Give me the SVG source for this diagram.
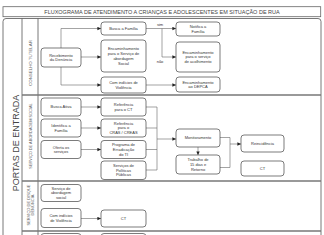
<svg xmlns="http://www.w3.org/2000/svg" width="324" height="235" viewBox="0 0 324 235">
<defs>
<marker id="ah" markerWidth="4" markerHeight="4" refX="3.6" refY="2" orient="auto" markerUnits="userSpaceOnUse">
<path d="M0,0.3 L3.6,2 L0,3.7 Z" fill="#222"/>
</marker>
<style>
.box{fill:#fff;stroke:#444;stroke-width:0.7}
.t{font-family:"Liberation Sans",Arial,sans-serif;font-size:4px;fill:#333;text-anchor:middle}
.lbl{font-family:"Liberation Sans",Arial,sans-serif;fill:#444;text-anchor:middle}
.sec{font-family:"Liberation Sans",Arial,sans-serif;fill:#666;text-anchor:middle}
.c{fill:none;stroke:#666;stroke-width:0.6}
.a{marker-end:url(#ah)}
.div{stroke:#777;stroke-width:1.3;fill:none}
.frame{fill:none;stroke:#555;stroke-width:0.8}
</style>
</defs>
<rect width="324" height="235" fill="#fff"/>
<g id="title">
<rect x="3" y="6.7" width="317.7" height="10" fill="#fff" stroke="#666" stroke-width="0.8"/>
<text class="lbl" x="162" y="13.6" font-size="5.5" fill="#333">FLUXOGRAMA DE ATENDIMENTO A CRIANÇAS E ADOLESCENTES EM SITUAÇÃO DE RUA</text>
</g>
<g id="frame">
<rect class="frame" x="3" y="18.5" width="318" height="240" rx="3"/>
<line class="frame" x1="22" y1="18.5" x2="22" y2="235"/>
<line class="frame" x1="38" y1="18.5" x2="38" y2="235"/>
<line class="div" x1="22" y1="95" x2="321" y2="95"/>
<line class="div" x1="22" y1="181" x2="321" y2="181"/>
<line class="div" x1="22" y1="231" x2="321" y2="231"/>
<text class="lbl" font-size="9" transform="translate(18.5,143) rotate(-90)">PORTAS DE ENTRADA</text>
<text class="sec" font-size="4.4" transform="translate(31.6,63) rotate(-90)">CONSELHO TUTELAR</text>
<text class="sec" font-size="3.9" transform="translate(31.6,136) rotate(-90)">SERVIÇO DE ABORDAGEM SOCIAL</text>
<text class="sec" font-size="4" transform="translate(29.5,205) rotate(-90)">SERVIÇO DE DISQUE</text>
<text class="sec" font-size="4" transform="translate(34.3,205) rotate(-90)">DENÚNCIA</text>
</g>
<g id="connectors">
<path class="c a" d="M61,48 V28.5 H101"/>
<path class="c a" d="M81,57 H101"/>
<path class="c a" d="M61,67 V85 H101"/>
<path class="c a" d="M146,28.5 H176"/>
<path class="c a" d="M162,28.5 V57 H176"/>
<path class="c a" d="M146,85 H176"/>
<path class="c a" d="M81,107 H101"/>
<path class="c a" d="M81,128 H101"/>
<path class="c a" d="M81,149.5 H101"/>
<path class="c" d="M146,107 H157 M146,128 H157 M146,149.5 H157 M146,170 H157 M157,107 V170"/>
<path class="c a" d="M157,139 H176"/>
<path class="c a" d="M198,147 V155"/>
<path class="c" d="M220,137.5 H230 V167.5 H220"/>
<path class="c a" d="M230,144 H241"/>
<path class="c a" d="M81,218.5 H101"/>
<text class="t" x="160" y="25.5">sim</text>
<text class="t" x="160" y="63">não</text>
</g>
<g id="n-recebimento"><rect class="box" x="41" y="48" width="40" height="19" rx="3"/><text class="t" x="61" y="56.5">Recebimento</text><text class="t" x="61" y="61.3">da Denúncia</text></g>
<g id="n-busca-familia"><rect class="box" x="101" y="22" width="45" height="13" rx="3"/><text class="t" x="123.5" y="29.9">Busca a Família</text></g>
<g id="n-enc-abordagem"><rect class="box" x="101" y="40" width="45" height="32" rx="3"/><text class="t" x="123.5" y="50.2">Encaminhamento</text><text class="t" x="123.5" y="55">para o Serviço de</text><text class="t" x="123.5" y="59.8">abordagem</text><text class="t" x="123.5" y="64.6">Social</text></g>
<g id="n-violencia1"><rect class="box" x="101" y="77" width="45" height="16" rx="3"/><text class="t" x="123.5" y="84">Com indícios de</text><text class="t" x="123.5" y="88.8">Violência</text></g>
<g id="n-notifica"><rect class="box" x="176" y="22" width="44" height="14" rx="3"/><text class="t" x="198" y="28">Notifica a</text><text class="t" x="198" y="32.8">Família</text></g>
<g id="n-acolhimento"><rect class="box" x="176" y="42" width="44" height="30" rx="3"/><text class="t" x="198" y="53.6">Encaminhamento</text><text class="t" x="198" y="58.4">para o serviço</text><text class="t" x="198" y="63.2">de acolhimento</text></g>
<g id="n-depca"><rect class="box" x="176" y="77" width="44" height="15" rx="3"/><text class="t" x="198" y="83.5">Encaminhamento</text><text class="t" x="198" y="88.3">ao DEPCA</text></g>
<g id="n-busca-ativa"><rect class="box" x="41" y="98" width="40" height="18" rx="3"/><text class="t" x="61" y="108.4">Busca Ativa</text></g>
<g id="n-identifica"><rect class="box" x="41" y="119" width="40" height="18" rx="3"/><text class="t" x="61" y="127">Identifica a</text><text class="t" x="61" y="131.8">Família</text></g>
<g id="n-oferta"><rect class="box" x="41" y="140.5" width="40" height="18" rx="3"/><text class="t" x="61" y="148.5">Oferta os</text><text class="t" x="61" y="153.3">serviços</text></g>
<g id="n-ref-ct"><rect class="box" x="101" y="98" width="45" height="18" rx="3"/><text class="t" x="123.5" y="106">Referência</text><text class="t" x="123.5" y="110.8">para o CT</text></g>
<g id="n-ref-cras"><rect class="box" x="101" y="119" width="45" height="18" rx="3"/><text class="t" x="123.5" y="124.6">Referência</text><text class="t" x="123.5" y="129.4">para o</text><text class="t" x="123.5" y="134.2">CRAS / CREAS</text></g>
<g id="n-peti"><rect class="box" x="101" y="140.5" width="45" height="18" rx="3"/><text class="t" x="123.5" y="146.1">Programa de</text><text class="t" x="123.5" y="150.9">Erradicação</text><text class="t" x="123.5" y="155.7">do TI</text></g>
<g id="n-politicas"><rect class="box" x="101" y="161" width="45" height="18.5" rx="3"/><text class="t" x="123.5" y="166.8">Serviços de</text><text class="t" x="123.5" y="171.6">Políticas</text><text class="t" x="123.5" y="176.4">Públicas</text></g>
<g id="n-monitoramento"><rect class="box" x="176" y="129" width="44" height="18" rx="3"/><text class="t" x="198" y="139.4">Monitoramento</text></g>
<g id="n-trabalho"><rect class="box" x="176" y="155" width="44" height="19" rx="3"/><text class="t" x="198" y="161.1">Trabalho de</text><text class="t" x="198" y="165.9">15 dias e</text><text class="t" x="198" y="170.7">Retorno</text></g>
<g id="n-reincidencia"><rect class="box" x="241" y="135" width="43" height="17" rx="3"/><text class="t" x="262.5" y="144.9">Reincidência</text></g>
<g id="n-ct1"><rect class="box" x="241" y="161" width="43" height="15" rx="3"/><text class="t" x="262.5" y="169.9">CT</text></g>
<g id="n-servico-abordagem"><rect class="box" x="41" y="184.5" width="40" height="17" rx="3"/><text class="t" x="61" y="189.6">Serviço de</text><text class="t" x="61" y="194.4">abordagem</text><text class="t" x="61" y="199.2">social</text></g>
<g id="n-violencia2"><rect class="box" x="41" y="208.5" width="40" height="19" rx="3"/><text class="t" x="61" y="217">Com indícios</text><text class="t" x="61" y="221.8">de Violência</text></g>
<g id="n-ct2"><rect class="box" x="101" y="210" width="45" height="17" rx="3"/><text class="t" x="123.5" y="219.9">CT</text></g>
<g id="n-next1"><rect class="box" x="41" y="233.5" width="40" height="18" rx="3"/></g>
<g id="n-next2"><rect class="box" x="101" y="233.5" width="45" height="18" rx="3"/></g>
</svg>
